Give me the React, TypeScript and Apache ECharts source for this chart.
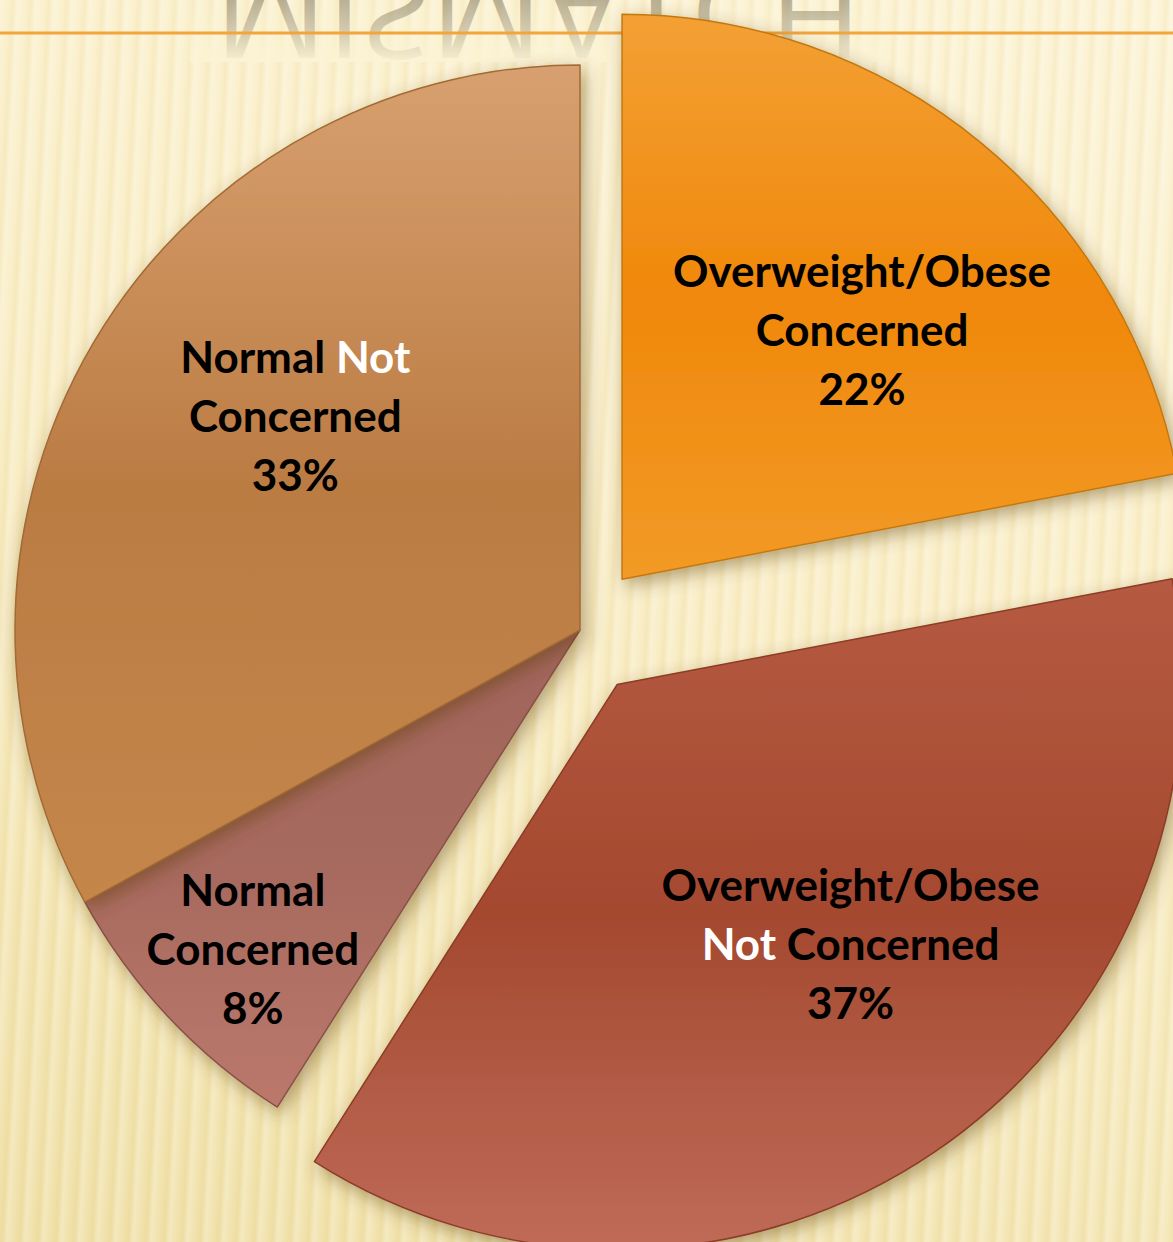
import React, { useEffect, useRef } from "react";
import * as echarts from "echarts";

const categories = [
  "Overweight/Obese Concerned",
  "Overweight/Obese Not Concerned",
  "Normal Concerned",
  "Normal Not Concerned",
];
const values = [22, 37, 8, 33];
const explodedSlices = [true, true, false, false];
const labelLines = [
  ["Overweight/Obese", "Concerned"],
  ["Overweight/Obese", "{w|Not} Concerned"],
  ["Normal", "Concerned"],
  ["Normal {w|Not}", "Concerned"],
];
const titleText = "MISMATCH";

// styles (not data)
const sliceGradients = [
  ["#F3A035", "#F0880A", "#F29A26"],
  ["#B65A42", "#A4492F", "#BF6B59"],
  ["#A0645A", "#A76A5E", "#BB786C"],
  ["#D8A070", "#BB7C43", "#C4864A"],
];
const sliceBorders = ["#C47810", "#8C3C26", "#8A5048", "#A26A34"];
// label nudges as padding [top, right, bottom, left]
const labelPads = [
  [0, 0, 60, 116],
  [44, 0, 0, 146],
  [0, 0, 0, 0],
  [0, 78, 140, 0],
];
const labelShift = [
  [0, 0],
  [0, 0],
  [-119, 123],
  [0, 0],
];

export default function App() {
  const ref = useRef<HTMLDivElement>(null);
  useEffect(() => {
    if (!ref.current) return;
    const chart = echarts.init(ref.current, null, { renderer: "svg" });
    const data = categories.map((name, i) => ({
      name,
      value: values[i],
      selected: explodedSlices[i],
      itemStyle: {
        color: {
          type: "linear",
          x: 0,
          y: 0,
          x2: 0,
          y2: 1,
          colorStops: [
            { offset: 0, color: sliceGradients[i][0] },
            { offset: 0.5, color: sliceGradients[i][1] },
            { offset: 1, color: sliceGradients[i][2] },
          ],
        },
        borderColor: sliceBorders[i],
      },
      label: { padding: labelPads[i] },
    }));
    chart.setOption({
      animation: false,
      backgroundColor: "transparent",
      graphic: [
        {
          type: "text",
          x: 538,
          y: 80,
          scaleY: -1,
          z: 0,
          silent: true,
          style: {
            text: titleText,
            font: 'normal 125px "Open Sans"',
            textAlign: "center",
            textVerticalAlign: "top",
            fill: "rgba(120,110,85,0.5)",
          },
        },
        {
          type: "rect",
          z: 0,
          silent: true,
          shape: { x: 190, y: 0, width: 700, height: 62 },
          style: {
            fill: {
              type: "linear",
              x: 0,
              y: 0,
              x2: 0,
              y2: 1,
              colorStops: [
                { offset: 0, color: "rgba(251,243,212,0)" },
                { offset: 0.5, color: "rgba(251,243,212,0.4)" },
                { offset: 1, color: "rgba(251,243,212,0.95)" },
              ],
            },
          },
        },
        {
          type: "line",
          z: 1,
          silent: true,
          shape: { x1: 0, y1: 33, x2: 1173, y2: 33 },
          style: { stroke: "#F2A53C", lineWidth: 3 },
        },
      ],
      series: [
        {
          type: "pie",
          z: 5,
          center: [580, 630],
          radius: [0, 565],
          startAngle: 90,
          clockwise: true,
          selectedMode: "multiple",
          selectedOffset: 66,
          avoidLabelOverlap: false,
          emphasis: { disabled: true },
          itemStyle: {
            borderWidth: 1.5,
            shadowBlur: 18,
            shadowColor: "rgba(90,60,10,0.45)",
            shadowOffsetX: 4,
            shadowOffsetY: 6,
          },
          select: {
            itemStyle: {
              borderWidth: 1.5,
              shadowBlur: 18,
              shadowColor: "rgba(90,60,10,0.45)",
              shadowOffsetX: 4,
              shadowOffsetY: 6,
            },
          },
          label: {
            show: true,
            position: "inside",
            color: "#000",
            fontFamily: "Lato",
            fontWeight: "bold",
            fontSize: 44,
            lineHeight: 59,
            align: "center",
            verticalAlign: "middle",
            formatter: (p: any) =>
              labelLines[p.dataIndex].join("\n") + "\n" + p.value + "%",
            rich: {
              w: {
                color: "#fff",
                fontFamily: "Lato",
                fontWeight: "bold",
                fontSize: 44,
                lineHeight: 59,
              },
            },
          },
          labelLayout: (p: any) => {
            const s = labelShift[p.dataIndex];
            return s[0] || s[1] ? { dx: s[0], dy: s[1] } : {};
          },
          labelLine: { show: false },
          data,
        },
      ],
    });
    return () => chart.dispose();
  }, []);
  return (
    <div
      ref={ref}
      style={{
        position: "absolute",
        left: 0,
        top: 0,
        width: 1173,
        height: 1242,
        background:
          "repeating-linear-gradient(93deg, rgba(255,255,255,0.28) 0px, rgba(255,255,255,0.05) 8px, rgba(220,198,125,0.12) 13px, rgba(255,255,255,0.28) 18px), linear-gradient(200deg, #FCF3D4 0%, #F9EDC4 45%, #EFDFA4 100%)",
      }}
    />
  );
}
